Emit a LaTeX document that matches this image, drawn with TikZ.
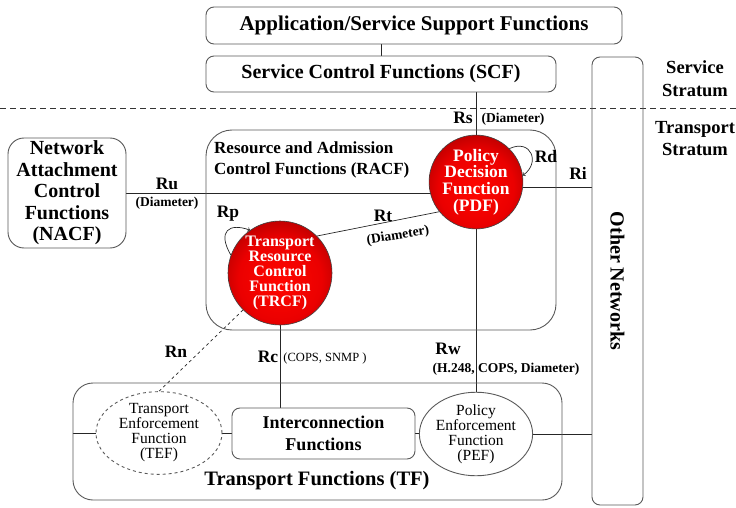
\documentclass[tikz,border=0pt]{standalone}
\usepackage{fontspec}
\setmainfont{Liberation Serif}
\usetikzlibrary{shapes}
\usetikzlibrary{backgrounds}
\pgfdeclareradialshading{redball}{\pgfpoint{0bp}{-4bp}}{color(0bp)=(red!95!orange); color(20bp)=(red!92!black); color(30bp)=(red!72!black); color(36bp)=(red!50!black); color(100bp)=(red!50!black)}

\begin{document}
\begin{tikzpicture}[x=1pt,y=-1pt,
  box/.style={draw=black!65,line width=0.9pt,rounded corners=8pt,inner sep=0pt,align=center},
  func/.style={circle,draw=black!75,line width=0.6pt,inner sep=0pt,shading=redball,text=white,align=center},
  enf/.style={ellipse,draw=black!65,line width=0.9pt,inner sep=0pt,align=center,font=\fontsize{15.5}{15}\selectfont},
  link/.style={draw=black!85,line width=0.7pt},
  lbl/.style={font=\fontsize{17.5}{18}\selectfont\bfseries,inner sep=1pt},
  proto/.style={font=\fontsize{13.5}{14}\selectfont\bfseries,inner sep=1pt}]
\useasboundingbox (0,0) rectangle (736,508);

\draw[black!80,line width=0.7pt,dash pattern=on 6pt off 4pt] (0,108) -- (736,108);

\node[box,minimum width=416pt,minimum height=37pt,font=\fontsize{21}{22}\selectfont\bfseries] (app) at (414,25.5) {Application/Service Support Functions};
\node[box,minimum width=350pt,minimum height=36pt,font=\fontsize{20}{21}\selectfont\bfseries] (scf) at (381,74) {Service Control Functions (SCF)};
\node[box,minimum width=51pt,minimum height=448pt] (other) at (617.5,281) {};
\node[font=\fontsize{20}{21}\selectfont\bfseries,rotate=-90] (othertxt) at (other.center) {Other Networks};
\node[font=\fontsize{18.5}{23}\selectfont\bfseries,align=center] (service) at (695,79) {Service\\Stratum};
\node[font=\fontsize{18.5}{22}\selectfont\bfseries,align=center] (transport) at (695,139) {Transport\\Stratum};

\node[box,rounded corners=16pt,minimum width=118pt,minimum height=110pt,font=\fontsize{20}{21.5}\selectfont\bfseries] (nacf) at (67,193) {Network\\Attachment\\Control\\Functions\\(NACF)};
\node[box,rounded corners=26pt,minimum width=350pt,minimum height=200pt] (racf) at (381,230) {};
\node[font=\fontsize{17}{21}\selectfont\bfseries,align=left,anchor=north west,inner sep=0pt] (racftxt) at (214,142) {Resource and Admission\\Control Functions (RACF)};

\node[func,minimum size=86pt,font=\fontsize{17.5}{16.7}\selectfont\bfseries] (pdf) at (476,182) {Policy\\Decision\\Function\\(PDF)};
\node[func,minimum size=104pt,font=\fontsize{16}{15.2}\selectfont\bfseries] (trcf) at (280,273) {Transport\\Resource\\Control\\Function\\(TRCF)};

\node[box,rounded corners=20pt,minimum width=489pt,minimum height=117pt] (tf) at (317.5,441.5) {};
\node[font=\fontsize{20.5}{21}\selectfont\bfseries] (tftxt) at (317,481) {Transport Functions (TF)};
\node[box,minimum width=183pt,minimum height=51pt,font=\fontsize{18}{21.5}\selectfont\bfseries] (inter) at (323.5,433.5) {Interconnection\\Functions};
\node[enf,dashed,minimum width=126pt,minimum height=77pt] (tef) at (159,433) {Transport\\Enforcement\\Function\\(TEF)};
\node[enf,minimum width=97pt,minimum height=76pt] (pef) at (476,434) {Policy\\Enforcement\\Function\\(PEF)};

\begin{pgfonlayer}{background}
\draw[link] (app.south -| scf.north) -- (scf.north);
\draw[link] (pdf.north) -- (pdf.north |- scf.south);
\draw[link] (nacf.east) -- (nacf.east -| pdf.center);
\draw[link] (pdf.-7) -- (pdf.-7 -| other.west);
\draw[link] (trcf.45) -- (pdf.219);
\draw[link] (trcf.south) -- (trcf.south |- inter.north);
\draw[link] (pdf.south) -- (pef.north);
\draw[link,dashed] (trcf.225) -- (tef.north);
\draw[link] (tef.west -| tf.west) -- (tef.west);
\draw[link] (tef.east) -- (tef.east -| inter.west);
\draw[link] (inter.east) -- (inter.east -| pef.west);
\draw[link] (pef.east) -- (pef.east -| other.west);
\end{pgfonlayer}
\draw[link,->] (pdf.45) .. controls +(25:24pt) and +(35:22pt) .. (pdf.8);
\draw[link,->] (trcf.160) .. controls +(120:28pt) and +(160:22pt) .. (trcf.125);

\node[lbl] (rs) at (463,118) {Rs};
\node[proto] (rsp) at (513,119) {(Diameter)};
\node[lbl] (rd) at (546,157) {Rd};
\node[lbl] (ri) at (578,173) {Ri};
\node[lbl] (ru) at (167,184) {Ru};
\node[proto] (rup) at (167,203) {(Diameter)};
\node[lbl] (rp) at (228,214) {Rp};
\node[lbl] (rt) at (383,216) {Rt};
\node[proto,rotate=9] (rtp) at (398,236) {(Diameter)};
\node[lbl] (rn) at (176,352) {Rn};
\node[lbl] (rc) at (268,357) {Rc};
\node[font=\fontsize{12.5}{13}\selectfont,inner sep=1pt] (rcp) at (325,358) {(COPS, SNMP )};
\node[lbl] (rw) at (448,349) {Rw};
\node[proto] (rwp) at (506,369) {(H.248, COPS, Diameter)};
\end{tikzpicture}
\end{document}
